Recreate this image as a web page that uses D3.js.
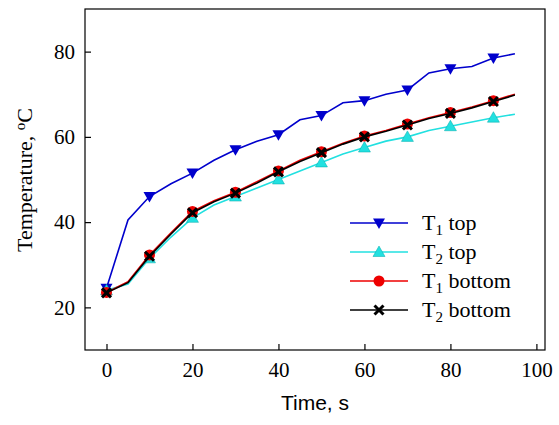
<!DOCTYPE html>
<html><head><meta charset="utf-8">
<script src="https://cdn.jsdelivr.net/npm/d3@7"></script>
<style>body{margin:0;background:#fff} .serif{font-family:"Liberation Serif","Times New Roman",Times,serif !important}</style>
</head><body><div id="chart"></div>
<script>
const times = [0,5,10,15,20,25,30,35,40,45,50,55,60,65,70,75,80,85,90,95];
const t1Top = [24.5,40.5,46,49,51.5,54.5,57,59,60.5,64,65,68,68.5,70,71,75,76,76.5,78.5,79.5];
const t2Top = [24,25.5,31.5,36.5,41,44,46,48,50,52,54,56,57.5,59,60,61.5,62.5,63.5,64.5,65.3];
const t1Bottom = [23.5,26,32.3,37.5,42.5,45,47,49.5,52,54.5,56.5,58.5,60.2,61.5,63,64.5,65.7,67,68.5,70];
const t2Bottom = [23.4,25.8,32,37.2,42.2,44.8,46.8,49.2,51.8,54.2,56.3,58.3,60,61.3,62.8,64.3,65.5,66.8,68.3,69.8];
const xTicks = [0,20,40,60,80,100];
const yTicks = [20,40,60,80];

const W = 559, H = 425;
const svg = d3.select("#chart").append("svg").attr("width", W).attr("height", H);
const x = d3.scaleLinear().domain([-5, 102]).range([85, 545]);
const y = d3.scaleLinear().domain([10, 90]).range([350, 9]);

svg.append("rect").attr("x",85).attr("y",9).attr("width",460).attr("height",341)
  .attr("fill","none").attr("stroke","#000").attr("stroke-width",1.2);

const gx = svg.append("g").attr("transform","translate(0,350)")
  .call(d3.axisBottom(x).tickValues(xTicks).tickSize(6).tickPadding(6));
const gy = svg.append("g").attr("transform","translate(85,0)")
  .call(d3.axisLeft(y).tickValues(yTicks).tickSize(6).tickPadding(6));
[gx, gy].forEach(g => {
  g.attr("font-family", null).attr("font-size", null);
  g.select(".domain").remove();
  g.selectAll("text").attr("class","serif").style("font-size","21px").attr("fill","#000");
  g.selectAll("line").attr("stroke","#000").attr("stroke-width",1.2);
});
gy.selectAll(".tick line").attr("x2",6);
gx.selectAll(".tick line").attr("y2",-6);
gy.selectAll("text").attr("x",-10);
gx.selectAll("text").attr("y",12);

svg.append("text").attr("x",315).attr("y",410).attr("text-anchor","middle")
  .style("font-family","'Liberation Sans', Arial, sans-serif").style("font-size","21px").text("Time, s");
const yl = svg.append("text").attr("class","serif").attr("transform","translate(32,180) rotate(-90)").attr("text-anchor","middle")
  .style("font-size","22px");
yl.append("tspan").text("Temperature, ");
yl.append("tspan").attr("dy",-7).style("font-size","15px").text("o");
yl.append("tspan").attr("dy",7).text("C");

const series = [
  {name:"1", lbl:" top", vals:t1Top, color:"#0000cc", mk:"tdown", fill:"#0000cc"},
  {name:"2", lbl:" top", vals:t2Top, color:"#22e0e0", mk:"tup", fill:"#22e0e0"},
  {name:"1", lbl:" bottom", vals:t1Bottom, color:"#ee0000", mk:"circle", fill:"#ee0000"},
  {name:"2", lbl:" bottom", vals:t2Bottom, color:"#000", mk:"x", fill:"#000"}
];
const line = d3.line().x(d => x(d[0])).y(d => y(d[1]));

function marker(g, type, cx, cy, col) {
  if (type === "circle") g.append("circle").attr("cx",cx).attr("cy",cy).attr("r",5.5).attr("fill",col);
  else if (type === "tup") g.append("path").attr("d",`M${cx},${cy-6}L${cx+6},${cy+4.5}L${cx-6},${cy+4.5}Z`).attr("fill",col).attr("stroke","#0aa").attr("stroke-width",0.5);
  else if (type === "tdown") g.append("path").attr("d",`M${cx},${cy+6}L${cx+6},${cy-4.5}L${cx-6},${cy-4.5}Z`).attr("fill",col);
  else g.append("path").attr("d",`M${cx-4.5},${cy-4.5}L${cx+4.5},${cy+4.5}M${cx+4.5},${cy-4.5}L${cx-4.5},${cy+4.5}`).attr("stroke",col).attr("stroke-width",3);
}

series.forEach(s => {
  const pts = times.map((t,i) => [t, s.vals[i]]);
  svg.append("path").datum(pts).attr("d", line).attr("fill","none").attr("stroke", s.color).attr("stroke-width",1.6);
  const g = svg.append("g");
  pts.filter(p => p[0] % 10 === 0).forEach(p => marker(g, s.mk, x(p[0]), y(p[1]), s.fill));
});

series.forEach((s,i) => {
  const ly = 223 + i*29;
  svg.append("line").attr("x1",350).attr("x2",408).attr("y1",ly).attr("y2",ly).attr("stroke",s.color).attr("stroke-width",1.6);
  marker(svg, s.mk, 379, ly, s.fill);
  const t = svg.append("text").attr("class","serif").attr("x",422).attr("y",ly+7).style("font-size","22px");
  t.append("tspan").text("T");
  t.append("tspan").attr("dy",5).style("font-size","15px").text(s.name);
  t.append("tspan").attr("dy",-5).text(s.lbl);
});
</script></body></html>
